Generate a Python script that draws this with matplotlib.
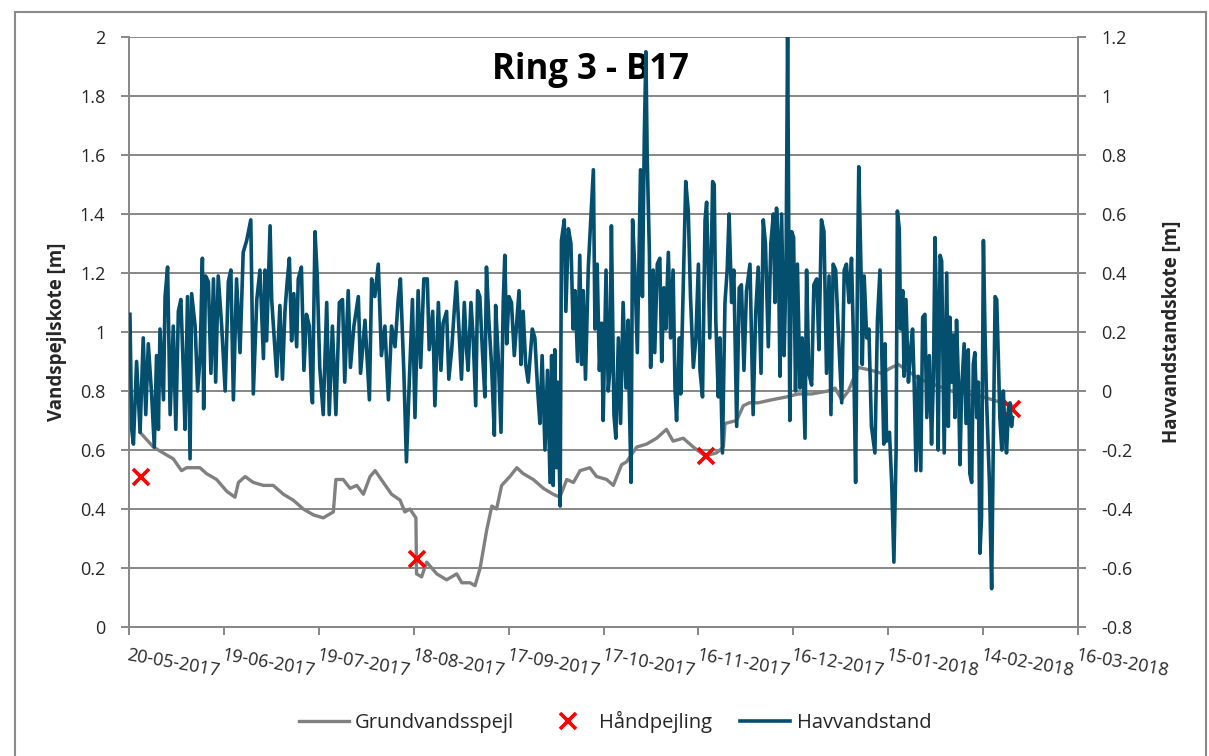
import matplotlib
matplotlib.use("Agg")
import matplotlib.pyplot as plt
import matplotlib.dates as mdates
from matplotlib.patches import Rectangle
from datetime import datetime, timedelta

plt.rcParams['font.family'] = ['Open Sans', 'DejaVu Sans']

# start date of the x axis; all series are stored as days after this date
start = datetime(2017, 5, 20)

# Havvandstand (right axis, m) - peaks/troughs
hav_dag = [
    0.3, 0.85, 1.4, 2.4, 3.5, 4.5, 5.3, 6.1, 7.2, 8.0, 8.7, 9.3, 9.8, 10.9, 11.4, 12.2,
    13.0, 14.0, 14.8, 15.6, 16.4, 17.2, 17.7, 18.5, 19.3, 19.8, 20.9, 21.7, 22.5, 23.2,
    23.6, 24.2, 25.1, 25.9, 26.7, 27.4, 28.2, 29.3, 30.4, 31.4, 32.2, 33.0, 34.0, 35.1,
    36.1, 37.2, 38.5, 39.3, 40.4, 41.4, 42.5, 43.0, 43.5, 44.6, 45.1, 46.7, 47.7, 48.5,
    49.3, 50.0, 50.7, 51.4, 52.1, 53.0, 53.5, 54.5, 55.3, 56.1, 57.0, 57.7, 58.0, 58.8,
    59.5, 60.3, 61.4, 62.5, 63.3, 64.3, 65.4, 66.5, 67.5, 68.2, 69.3, 70.0, 71.1, 72.5,
    73.2, 74.6, 76.0, 76.7, 77.7, 78.8, 79.8, 80.9, 82.0, 83.0, 84.1, 85.1, 85.8, 86.9,
    87.7, 88.6, 89.6, 90.4, 91.4, 92.2, 93.2, 94.3, 94.9, 96.0, 96.7, 97.8,
    98.6, 99.3, 100.4, 101.1, 102.0, 102.8, 103.5, 104.3, 105.1, 106.0, 106.7, 107.2,
    108.1, 108.8, 109.6, 110.2, 110.9, 111.7, 112.5, 113.0, 113.8, 114.6, 115.5, 115.9,
    116.7, 117.6, 118.3, 118.8, 119.4, 120.1, 120.9, 121.8, 123.3, 123.9, 124.6, 125.4,
    126.2, 127.5, 128.3, 129.2, 129.9, 130.6, 131.5, 132.3, 133.1, 133.6, 134.1, 134.6,
    135.2, 135.5, 136.3, 136.7, 137.6, 138.1, 138.9, 139.7, 140.4, 141.0, 141.8, 142.5,
    143.1, 143.6, 144.3, 145.2,
    146.8, 147.3, 148.0, 148.7, 149.4, 149.9, 150.8, 151.5, 152.0, 152.5, 153.3, 153.9,
    154.7, 155.4, 156.2, 157.1, 157.8, 158.1, 158.7, 159.2, 159.9, 160.7, 161.3, 161.7,
    162.3, 162.9, 163.4, 163.8, 164.5, 164.9, 165.7, 166.2, 167.0, 167.8, 168.4, 169.1,
    169.7, 170.5, 171.2, 172.0, 172.6, 173.1, 174.0, 174.4, 175.2, 176.0, 176.8, 177.5,
    178.4, 179.2, 180.0, 180.5, 181.3, 182.1, 182.6, 183.1, 183.6, 184.5, 185.0, 185.5,
    186.3, 186.8, 187.6, 188.4, 189.1, 189.7, 190.5, 191.2, 192.1, 192.9, 193.6, 194.4,
    195.2,
    196.3, 196.8, 197.3, 198.1, 198.9, 199.8, 200.5, 201.2, 202.1, 202.9, 203.7, 204.2,
    204.7, 205.2, 205.8, 206.3, 207.1, 207.7, 208.2, 208.6, 208.9, 209.5, 210.1, 210.7,
    211.3, 212.1, 212.8, 213.7, 214.2, 214.9, 215.8, 216.5, 217.4, 218.1, 218.9, 219.7,
    220.5, 221.3, 221.9, 222.6, 223.4, 224.2, 225.3, 226.1, 226.8, 227.6, 228.4, 229.0,
    229.7, 230.3, 230.7, 231.4, 231.8, 232.4, 233.2, 233.9, 234.7, 235.8, 236.6, 237.4,
    238.1,
    238.6, 239.0, 239.5, 240.4, 241.1, 241.8, 242.5, 242.9, 243.5, 243.9, 244.6, 245.0,
    245.6, 246.4, 247.1, 247.7, 248.2, 248.8, 249.5, 250.3, 250.9, 251.6, 252.2, 253.0,
    253.7, 254.3, 254.8, 255.3, 255.8, 256.4, 256.9, 257.4, 257.7, 258.5, 259.0, 259.5,
    260.1, 260.6, 261.1, 261.6, 262.2, 262.7, 263.2, 264.0, 264.6, 265.3, 265.8, 266.4,
    266.9, 267.4, 268.0, 268.5, 269.0, 269.5, 270.1, 270.6, 271.1, 272.0, 272.7, 273.2,
    273.8, 274.3, 274.8, 275.3, 275.9, 276.4, 276.9, 277.4, 278.0, 278.5, 279.0, 279.3,
]
hav_m = [
    0.26, -0.13, -0.18, 0.10, -0.14, 0.18, -0.08, 0.16, -0.02, -0.19, 0.12, -0.13, 0.21, -0.03, 0.32, 0.42,
    -0.08, 0.22, -0.13, 0.27, 0.31, 0.06, -0.13, 0.32, -0.23, 0.33, 0.22, 0.0, 0.12, 0.45,
    -0.06, 0.39, 0.37, 0.06, 0.38, 0.03, 0.39, 0.22, 0.0, 0.37, 0.41, -0.03, 0.38, 0.13,
    0.47, 0.51, 0.58, -0.01, 0.31, 0.41, 0.11, 0.41, 0.17, 0.56, 0.31, 0.05, 0.29, 0.04,
    0.27, 0.37, 0.45, 0.17, 0.33, 0.15, 0.38, 0.42, 0.07, 0.26, 0.22, -0.01, -0.04, 0.54,
    0.39, 0.08, -0.08, 0.30, -0.08, 0.22, -0.08, 0.30, 0.31, 0.03, 0.34, 0.08, 0.22, 0.32,
    0.06, 0.24, -0.03, 0.38, 0.32, 0.43, 0.12, 0.22, -0.03, 0.22, 0.15, 0.31, 0.38, 0.06,
    -0.24, 0.03, 0.31, -0.09, 0.34, 0.08, 0.38, 0.38, 0.14, 0.27, -0.05, 0.30,
    0.07, 0.23, 0.27, 0.04, 0.14, 0.27, 0.37, 0.21, 0.04, 0.30, 0.14, 0.07,
    0.30, 0.18, -0.05, 0.34, 0.32, 0.14, -0.02, 0.42, 0.23, 0.09, -0.15, 0.29,
    0.12, -0.14, 0.30, 0.46, 0.16, 0.32, 0.30, 0.12, 0.34, 0.09, 0.27, 0.09,
    0.03, 0.21, 0.18, 0.0, -0.11, 0.12, -0.20, 0.07, -0.31, 0.12, -0.32, 0.14,
    -0.26, 0.03, -0.39, 0.51, 0.58, 0.27, 0.55, 0.50, 0.21, 0.34, 0.10, 0.46,
    0.09, 0.34, 0.04, 0.42,
    0.75, 0.21, 0.43, 0.07, 0.23, -0.10, 0.41, 0.0, 0.07, 0.56, -0.08, -0.16,
    0.18, -0.11, 0.30, 0.01, 0.24, 0.0, -0.31, 0.58, 0.41, 0.13, 0.49, 0.75,
    0.32, 0.86, 1.15, 0.80, 0.47, 0.08, 0.41, 0.13, 0.43, 0.45, 0.10, 0.35,
    0.21, 0.47, 0.18, 0.41, 0.01, -0.10, 0.18, -0.01, 0.35, 0.71, 0.61, 0.32,
    0.08, 0.18, 0.43, 0.07, -0.02, 0.58, 0.64, 0.41, 0.18, 0.71, 0.70, 0.24,
    -0.02, 0.18, -0.21, 0.30, 0.41, 0.60, 0.30, 0.41, -0.12, 0.35, 0.36, 0.07,
    0.34,
    0.43, 0.18, -0.08, 0.26, 0.42, 0.06, 0.58, 0.50, 0.15, 0.50, 0.60, 0.30,
    0.62, 0.52, 0.05, 0.60, 0.12, 0.41, 1.22, 0.47, -0.10, 0.54, 0.52, 0.0,
    0.43, 0.01, 0.18, -0.16, 0.41, 0.06, 0.02, 0.36, 0.38, 0.14, 0.58, 0.54,
    0.06, 0.39, -0.08, 0.43, 0.41, 0.21, -0.04, 0.41, 0.43, 0.30, 0.45, 0.18,
    -0.31, 0.41, 0.76, 0.41, 0.09, 0.39, 0.18, 0.21, -0.12, -0.21, 0.24, 0.41,
    0.07,
    -0.18, 0.16, -0.17, -0.14, -0.31, -0.58, -0.20, 0.61, 0.55, 0.21, 0.34, 0.05,
    0.31, 0.03, 0.14, 0.21, 0.03, -0.27, 0.05, -0.27, 0.25, 0.26, -0.09, 0.12,
    -0.18, 0.05, 0.52, 0.25, -0.20, 0.46, 0.44, 0.03, -0.21, 0.40, -0.12, 0.25,
    0.03, 0.19, -0.09, 0.24, 0.03, -0.25, 0.0, 0.16, -0.11, 0.14, -0.28, -0.31,
    0.09, 0.13, -0.09, 0.03, -0.55, -0.43, 0.51, 0.20, -0.03, -0.31, -0.67, -0.20,
    0.32, 0.31, 0.12, -0.09, -0.20, 0.0, -0.13, -0.21, -0.06, -0.04, -0.12, -0.09,
]

# Grundvandsspejl (left axis, m)
grund_dag = [
    3.5, 7.7, 10.8, 14.0, 16.6, 18.2, 20.3, 22.4, 24.5, 27.7, 30.9, 33.5, 34.6, 36.7,
    39.3, 42.5, 45.6, 48.8, 51.9, 55.1, 58.3, 61.4, 64.6, 65.4, 67.7, 69.9, 72.0, 74.1,
    76.2, 77.8, 80.4, 83.0, 85.7, 87.2, 88.8, 90.7, 90.9, 92.5, 94.1, 97.3, 100.4, 103.6,
    105.2, 107.8, 109.4, 111.0, 113.1, 114.7, 116.2, 117.8, 120.4, 122.6, 124.6, 127.8,
    131.0, 134.1, 136.2, 138.4, 140.5, 142.6, 145.7, 147.8, 151.0, 153.1, 155.7, 157.3,
    160.5, 163.6, 166.8, 169.9, 172.0, 175.2, 178.4, 182.1, 185.7, 187.9, 188.4, 192.1,
    194.2, 196.1, 198.9, 203.1, 207.9, 211.6, 215.8, 221.0, 223.2, 225.3, 227.4, 230.5,
    234.7, 237.9, 241.1, 243.2, 250.0, 260.0, 270.0, 279.0,
]
grund_m = [
    0.66, 0.61, 0.59, 0.57, 0.53, 0.54, 0.54, 0.54, 0.52, 0.50, 0.46, 0.44, 0.49, 0.51,
    0.49, 0.48, 0.48, 0.45, 0.43, 0.40, 0.38, 0.37, 0.39, 0.50, 0.50, 0.47, 0.48, 0.45,
    0.51, 0.53, 0.49, 0.45, 0.43, 0.39, 0.40, 0.37, 0.18, 0.17, 0.22, 0.18, 0.16, 0.18,
    0.15, 0.15, 0.14, 0.20, 0.33, 0.41, 0.40, 0.48, 0.51, 0.54, 0.52, 0.50,
    0.47, 0.45, 0.44, 0.50, 0.49, 0.53, 0.54, 0.51, 0.50, 0.48, 0.55, 0.56,
    0.61, 0.62, 0.64, 0.67, 0.63, 0.64, 0.61, 0.58, 0.59, 0.61, 0.69, 0.70,
    0.75, 0.76, 0.76, 0.77, 0.78, 0.79, 0.79, 0.80, 0.81, 0.77, 0.80, 0.88,
    0.87, 0.86, 0.88, 0.89, 0.84, 0.80, 0.78, 0.75,
]

# Håndpejling (left axis, m)
pejl_dag = [3.8, 91.0, 182.4, 279.2]
pejl_m = [0.51, 0.23, 0.58, 0.74]

titel = "Ring 3 - B17"
grid_col = "#878787"
txt_col = "#262626"


def til_dato(dage):
    return [start + timedelta(days=d) for d in dage]


fig, ax = plt.subplots(figsize=(12.09, 7.56), dpi=100)
fig.subplots_adjust(left=129/1209, right=1078/1209, top=1-37/756, bottom=1-627/756)
ax2 = ax.twinx()

ax.plot(til_dato(grund_dag), grund_m, color="#808080", lw=2.4, label="Grundvandsspejl")
ax.plot(til_dato(pejl_dag), pejl_m, ls="none", marker="x", color="#ff0000",
        ms=12, mew=2.6, label="Håndpejling")
ax2.plot(til_dato(hav_dag), hav_m, color="#044e6e", lw=2.6, label="Havvandstand")

xmin = start
xmax = start + timedelta(days=300)
ax.set_xlim(xmin, xmax)
ax.set_ylim(0, 2)
ax2.set_ylim(-0.8, 1.2)
ax.set_yticks([i * 0.2 for i in range(11)])
ax.set_yticklabels(["0", "0.2", "0.4", "0.6", "0.8", "1", "1.2", "1.4", "1.6", "1.8", "2"])
ax2.set_yticks([-0.8 + i * 0.2 for i in range(11)])
ax2.set_yticklabels(["-0.8", "-0.6", "-0.4", "-0.2", "0", "0.2", "0.4", "0.6", "0.8", "1", "1.2"])

xt = [start + timedelta(days=30 * k) for k in range(11)]
ax.set_xticks(xt)
ax.xaxis.set_major_formatter(mdates.DateFormatter("%d-%m-%Y"))

ax.grid(axis="y", color=grid_col, lw=1.4)
ax.set_axisbelow(True)
for a in (ax, ax2):
    a.spines["top"].set_visible(False)
    for s in a.spines.values():
        s.set_color(grid_col)
        s.set_linewidth(1.4)
ax2.spines["left"].set_visible(False)
ax2.spines["bottom"].set_visible(False)

ax.tick_params(axis="both", direction="out", length=6, width=1.4, color=grid_col,
               labelsize=13, labelcolor=txt_col)
ax.tick_params(axis="y", pad=11)
ax.tick_params(axis="x", pad=8)
ax2.tick_params(axis="y", direction="out", length=6, width=1.4, color=grid_col,
                labelsize=13, labelcolor=txt_col, pad=11)
plt.setp(ax.get_xticklabels(), rotation=-10, ha="left", va="top", rotation_mode="anchor")

ax.set_ylabel("Vandspejlskote [m]", fontsize=13.5, fontweight="bold", color=txt_col)
ax.yaxis.set_label_coords(-0.065, 0.5)
ax2.set_ylabel("Havvandstandskote [m]", fontsize=13.5, fontweight="bold", color=txt_col)
ax2.yaxis.set_label_coords(1.089, 0.5)

ax.text(0.486, 0.944, titel, transform=ax.transAxes, ha="center", va="center",
        fontsize=25, fontweight="bold", color="black", zorder=10)

h1, l1 = ax.get_legend_handles_labels()
h2, l2 = ax2.get_legend_handles_labels()
fig.legend(h1 + h2, l1 + l2, loc="center", bbox_to_anchor=(615/1209, 1 - 722/756), ncol=3,
           frameon=False, fontsize=14.5, handlelength=2.5, columnspacing=1.4,
           handletextpad=0.3, labelcolor=txt_col)

# chart area frame like the spreadsheet export
fig.add_artist(Rectangle((15/1209, -0.05), (1206-15)/1209, 1.05 - 12/756,
                         transform=fig.transFigure, fill=False, ec="#8a8a8a", lw=1.5))

fig.savefig("out.png", dpi=100)
